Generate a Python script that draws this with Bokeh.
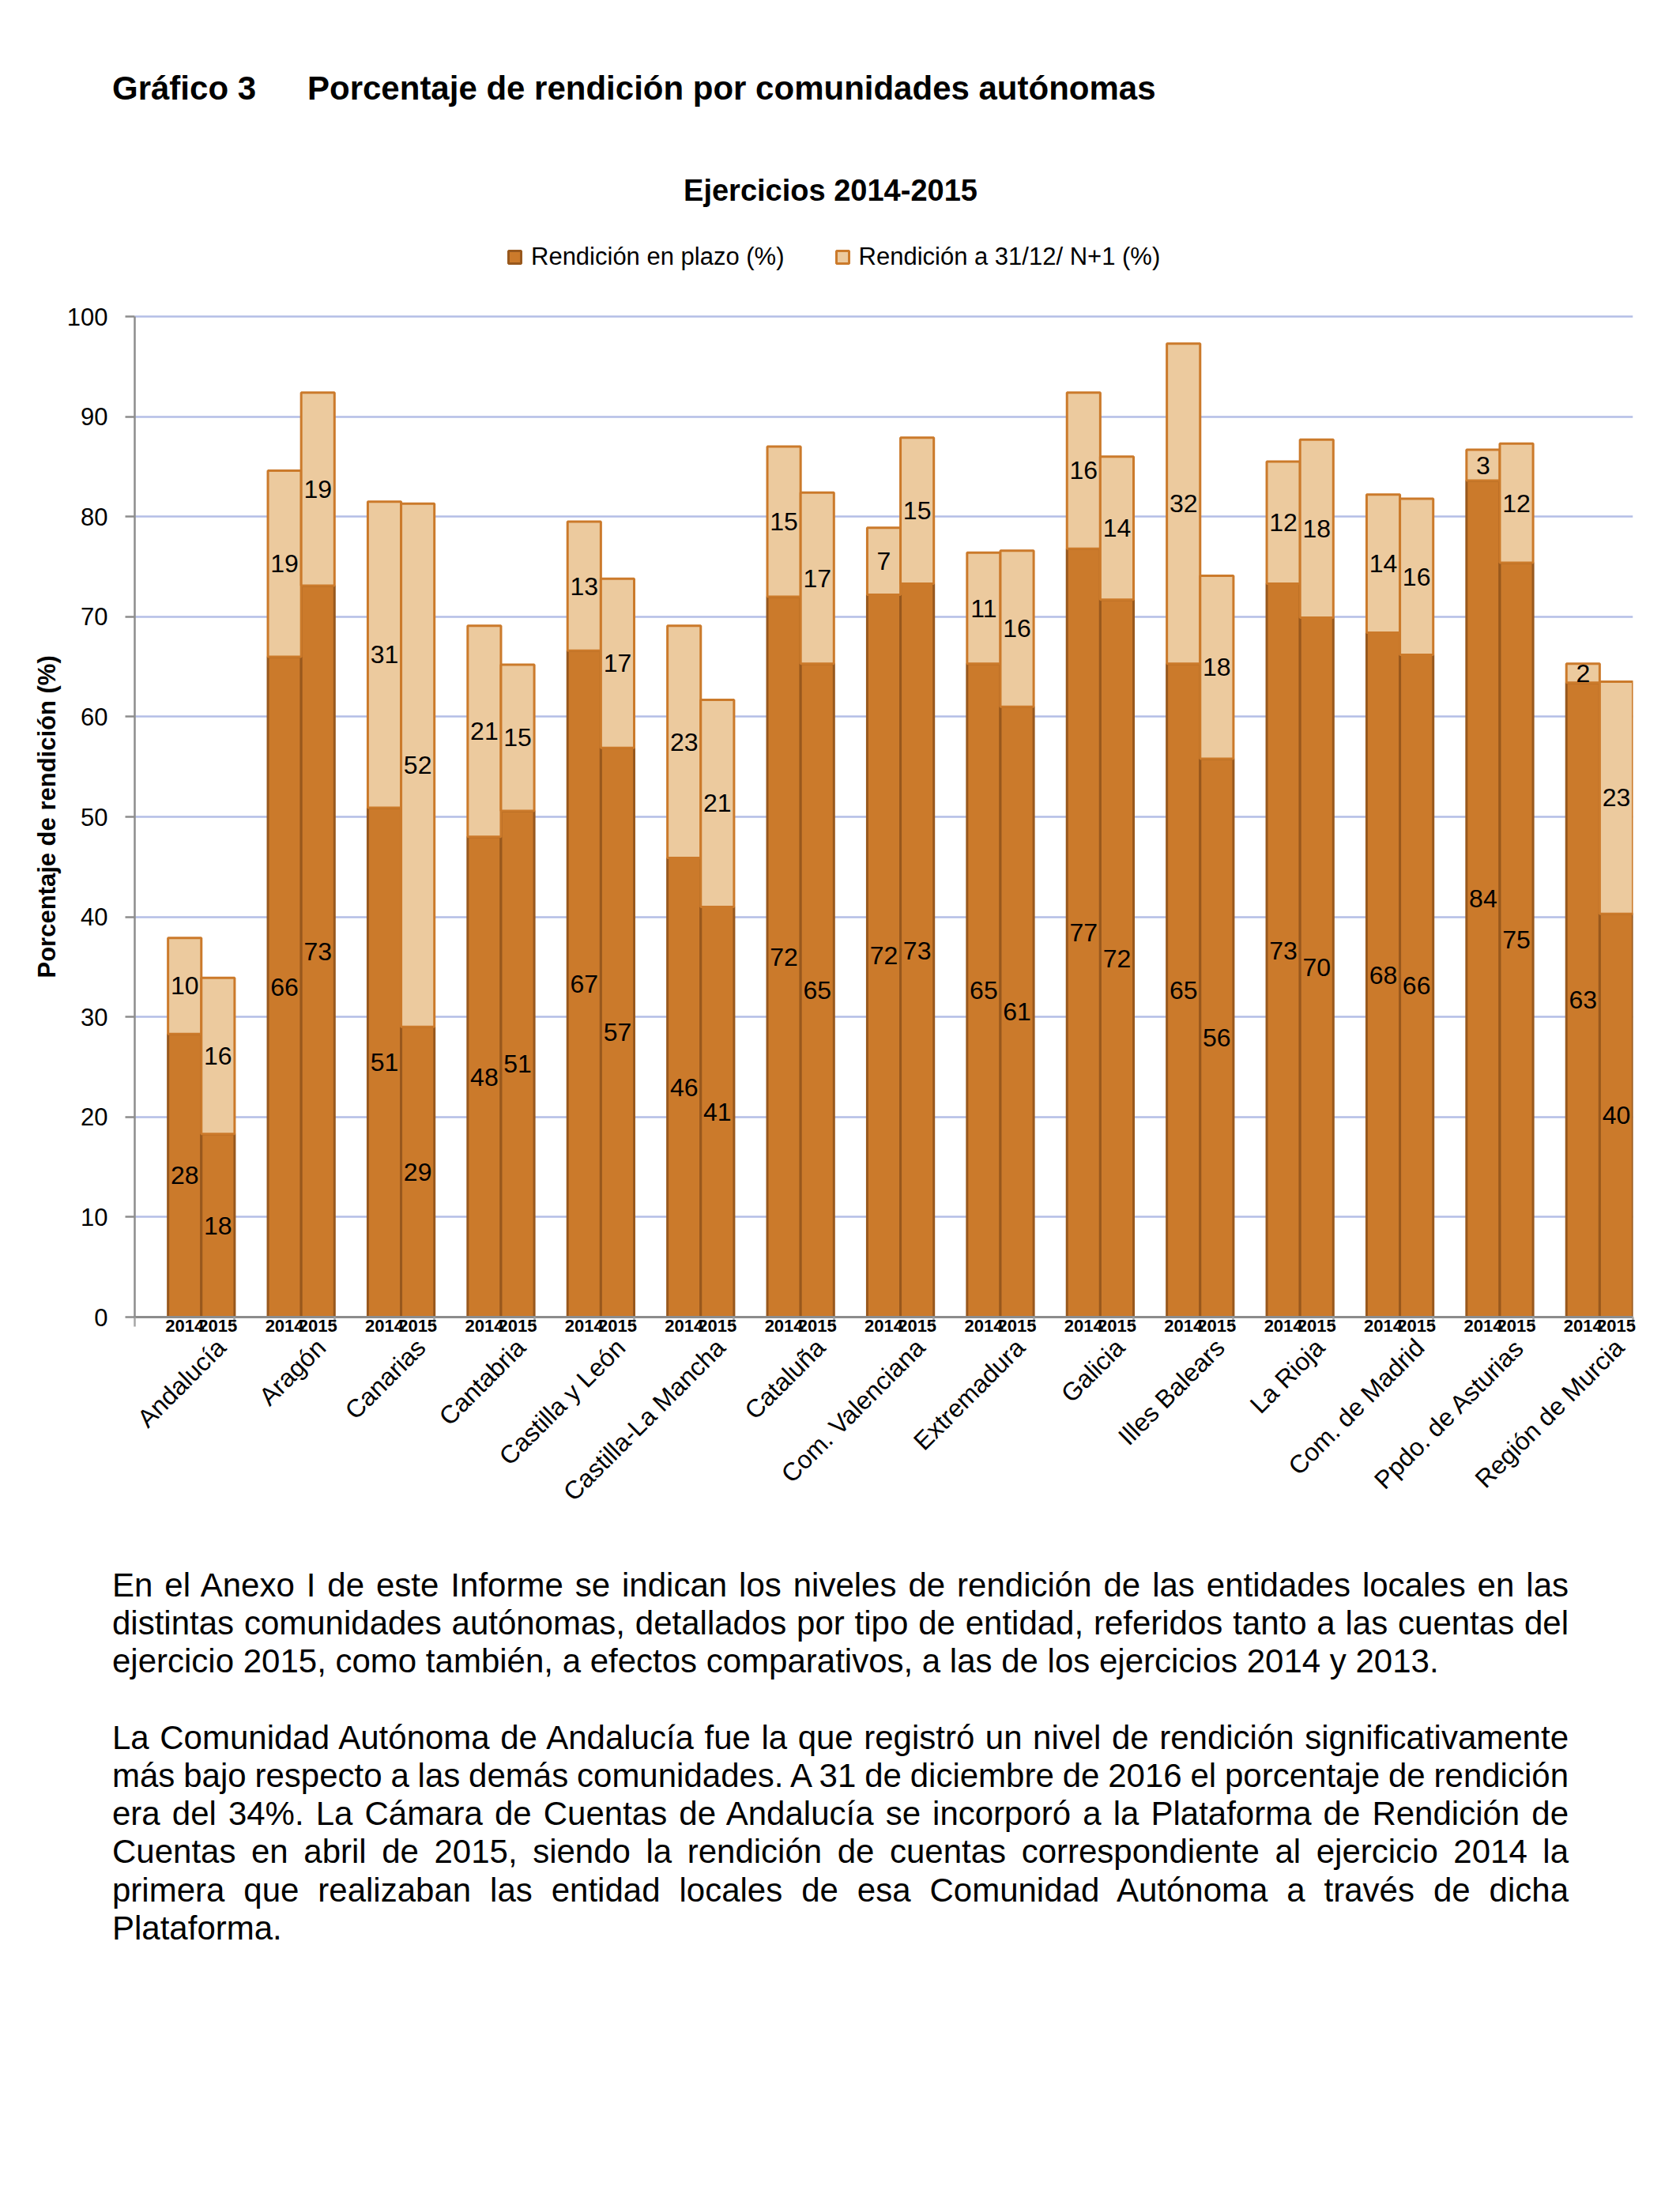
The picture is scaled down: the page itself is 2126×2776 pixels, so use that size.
from math import pi
from bokeh.plotting import figure
from bokeh.models import (Range1d, FixedTicker, LinearAxis, Legend,
                          LegendItem, ColumnDataSource, Div, Title)
from bokeh.layouts import column
from bokeh.embed import file_html
from bokeh.resources import INLINE
from bokeh.core.properties import value

# ---------------- data ----------------
regions = ["Andalucía", "Aragón", "Canarias", "Cantabria", "Castilla y León",
           "Castilla-La Mancha", "Cataluña", "Com. Valenciana", "Extremadura",
           "Galicia", "Illes Balears", "La Rioja", "Com. de Madrid",
           "Ppdo. de Asturias", "Región de Murcia"]
years = ["2014", "2015"]
plazo_2014 = [28.3, 66.0, 50.9, 48.0, 66.6, 45.9, 72.0, 72.2, 65.3, 76.8, 65.3, 73.3, 68.4, 83.6, 63.4]
extra_2014 = [9.6, 18.6, 30.6, 21.1, 12.9, 23.2, 15.0, 6.7, 11.1, 15.6, 32.0, 12.2, 13.8, 3.1, 1.9]
plazo_2015 = [18.3, 73.1, 29.0, 50.6, 56.9, 41.0, 65.3, 73.3, 61.0, 71.7, 55.8, 69.9, 66.2, 75.4, 40.3]
extra_2015 = [15.6, 19.3, 52.3, 14.6, 16.9, 20.7, 17.1, 14.6, 15.6, 14.3, 18.3, 17.8, 15.6, 11.9, 23.2]
y_ticks = [0, 10, 20, 30, 40, 50, 60, 70, 80, 90, 100]
series_names = ["Rendición en plazo (%)", "Rendición a 31/12/ N+1 (%)"]

heading_num = "Gráfico 3"
heading_txt = "Porcentaje de rendición por comunidades autónomas"
chart_title = "Ejercicios 2014-2015"
y_label = "Porcentaje de rendición (%)"

para1_lines = [
    "En el Anexo I de este Informe se indican los niveles de rendición de las entidades locales en las",
    "distintas comunidades autónomas, detallados por tipo de entidad, referidos tanto a las cuentas del",
    "ejercicio 2015, como también, a efectos comparativos, a las de los ejercicios 2014 y 2013.",
]
para2_lines = [
    "La Comunidad Autónoma de Andalucía fue la que registró un nivel de rendición significativamente",
    "más bajo respecto a las demás comunidades. A 31 de diciembre de 2016 el porcentaje de rendición",
    "era del 34%. La Cámara de Cuentas de Andalucía se incorporó a la Plataforma de Rendición de",
    "Cuentas en abril de 2015, siendo la rendición de cuentas correspondiente al ejercicio 2014 la",
    "primera que realizaban las entidad locales de esa Comunidad Autónoma a través de dicha",
    "Plataforma.",
]

FONT = "Liberation Sans"
C_PLAZO = "#CB7A2B"
C_PLAZO_LINE = "#98581D"
C_EXTRA = "#ECCA9E"
C_EXTRA_LINE = "#CB7A2B"

def rnd(v):
    return str(int(v + 0.5))

xs, yr, pl, ex = [], [], [], []
for i in range(len(regions)):
    for j, (pv, ev) in enumerate([(plazo_2014[i], extra_2014[i]),
                                  (plazo_2015[i], extra_2015[i])]):
        xs.append(3 * i + 1.5 + j)
        yr.append(years[j])
        pl.append(pv)
        ex.append(ev)

src = ColumnDataSource(dict(
    x=xs, plazo=pl, extra=ex,
    total=[p + e for p, e in zip(pl, ex)],
    plazo_mid=[p / 2 for p in pl],
    extra_mid=[p + e / 2 for p, e in zip(pl, ex)],
    plazo_lbl=[rnd(p) for p in pl],
    extra_lbl=[rnd(e) for e in ex],
))

n_slots = 3 * len(regions)

# ---------------- page geometry (pixels) ----------------
HEAD_H = 270          # header div height
FRAME_TOP = 290       # top of plot frame (room for legend)
Y100 = 400            # pixel row of the 100 % gridline
FRAME_BOTTOM = 1666   # pixel row of 0
TEXT_TOP = 1982       # start of body text
y_end = 100 * (FRAME_BOTTOM - FRAME_TOP) / (FRAME_BOTTOM - Y100)

# ---------------- header (page headings) ----------------
head_html = (
    f"<div style=\"position:relative;width:2118px;height:{HEAD_H}px;font-family:'Liberation Sans',Arial,sans-serif;color:#000\">"
    f"<div style=\"position:absolute;left:142px;top:91px;font-size:42px;line-height:42px;font-weight:bold;white-space:nowrap\">{heading_num}</div>"
    f"<div style=\"position:absolute;left:389px;top:91px;font-size:42px;line-height:42px;font-weight:bold;white-space:nowrap\">{heading_txt}</div>"
    f"<div style=\"position:absolute;left:0px;top:222px;width:2102px;text-align:center;font-size:38px;line-height:38px;font-weight:bold;white-space:nowrap\">{chart_title}</div>"
    "</div>"
)
header = Div(text=head_html, width=2118, height=HEAD_H, margin=(0, 0, 0, 0))

# ---------------- chart ----------------
p = figure(width=2118, height=TEXT_TOP - HEAD_H, x_range=Range1d(0, n_slots),
           y_range=Range1d(0, y_end),
           output_backend="svg", toolbar_location=None,
           min_border_left=170, min_border_right=52, min_border_top=FRAME_TOP - HEAD_H,
           min_border_bottom=TEXT_TOP - FRAME_BOTTOM)
p.outline_line_color = None
p.background_fill_color = "white"
p.border_fill_color = "white"
p.title.visible = False

r1 = p.vbar(x="x", width=1, bottom=0, top="plazo", source=src,
            fill_color=C_PLAZO, line_color=C_PLAZO_LINE, line_width=3)
r2 = p.vbar(x="x", width=1, bottom="plazo", top="total", source=src,
            fill_color=C_EXTRA, line_color=C_EXTRA_LINE, line_width=3)

p.text(x="x", y="plazo_mid", text="plazo_lbl", source=src, text_align="center",
       text_baseline="middle", text_font=value(FONT), text_font_size="32px", text_color="black")
p.text(x="x", y="extra_mid", text="extra_lbl", source=src, text_align="center",
       text_baseline="middle", text_font=value(FONT), text_font_size="32px", text_color="black")

# grid
p.xgrid.grid_line_color = None
p.ygrid.ticker = FixedTicker(ticks=y_ticks)
p.ygrid.grid_line_color = "#B4BEE6"
p.ygrid.grid_line_width = 2.5

# y axis
ya = p.yaxis[0]
ya.ticker = FixedTicker(ticks=y_ticks)
ya.bounds = (0, 100)
ya.axis_line_color = "#8C8C8C"
ya.axis_line_width = 2.5
ya.major_tick_line_color = "#8C8C8C"
ya.major_tick_line_width = 2.5
ya.major_tick_out = 12
ya.major_tick_in = 0
ya.minor_tick_line_color = None
ya.major_label_text_font = FONT
ya.major_label_text_font_size = "31px"
ya.major_label_text_color = "black"
ya.major_label_standoff = 22

# y axis title (centred on the 0-100 span)
label_len = 408
offset = int((FRAME_BOTTOM - Y100) / 2 - label_len / 2)
p.add_layout(Title(text=y_label, align="left", offset=offset, standoff=10,
                   text_font=FONT, text_font_size="31px", text_font_style="bold",
                   text_color="black"), "left")

# x axis: years
xa = p.xaxis[0]
xa.ticker = FixedTicker(ticks=xs, minor_ticks=[3 * i for i in range(len(regions) + 1)])
xa.major_label_overrides = {float(x): y for x, y in zip(xs, yr)}
xa.axis_line_color = "#8C8C8C"
xa.axis_line_width = 3
xa.major_tick_line_color = None
xa.major_tick_out = 0
xa.major_tick_in = 0
xa.minor_tick_line_color = "#A6A6A6"
xa.minor_tick_line_width = 2.5
xa.minor_tick_out = 12
xa.minor_tick_in = 0
xa.major_label_text_font = FONT
xa.major_label_text_font_size = "22px"
xa.major_label_text_font_style = "bold"
xa.major_label_text_color = "black"
xa.major_label_standoff = -9

# x axis: regions
region_ticks = [3 * i + 2.6 for i in range(len(regions))]
ra = LinearAxis(ticker=FixedTicker(ticks=region_ticks))
ra.major_label_overrides = {float(t): r for t, r in zip(region_ticks, regions)}
ra.major_label_orientation = pi / 4
ra.axis_line_color = None
ra.major_tick_line_color = None
ra.minor_tick_line_color = None
ra.major_tick_out = 0
ra.major_tick_in = 0
ra.major_label_text_font = FONT
ra.major_label_text_font_size = "32px"
ra.major_label_text_color = "black"
ra.major_label_standoff = 12
p.add_layout(ra, "below")

# legend inside the (extended) frame, above the 100 % line
legend = Legend(items=[LegendItem(label=series_names[0], renderers=[r1]),
                       LegendItem(label=series_names[1], renderers=[r2])],
                orientation="horizontal", location=(471, FRAME_BOTTOM - 343),
                glyph_width=20, glyph_height=20, label_standoff=11, spacing=63,
                padding=0, margin=0, border_line_color=None, background_fill_alpha=0,
                label_text_font=FONT, label_text_font_size="31px", label_text_color="black")
p.add_layout(legend)

# ---------------- text below ----------------
def line_div(t, last):
    align = "text-align:left" if last else "text-align:justify;text-align-last:justify;word-spacing:-1.5px"
    return f"<div style=\"{align}\">{t}</div>"

body = []
for k, t in enumerate(para1_lines):
    body.append(line_div(t, k == len(para1_lines) - 1))
body.append("<div style=\"height:48.2px\"></div>")
for k, t in enumerate(para2_lines):
    body.append(line_div(t, k == len(para2_lines) - 1))
html = ("<div style=\"font-family:'Liberation Sans',Arial,sans-serif;font-size:42px;"
        "line-height:48.2px;color:#000;width:1843px\">" + "".join(body) + "</div>")
div = Div(text=html, width=1843, height=520, margin=(0, 0, 0, 142))

layout = column(header, p, div)
open("out.html", "w").write(file_html(layout, INLINE))
